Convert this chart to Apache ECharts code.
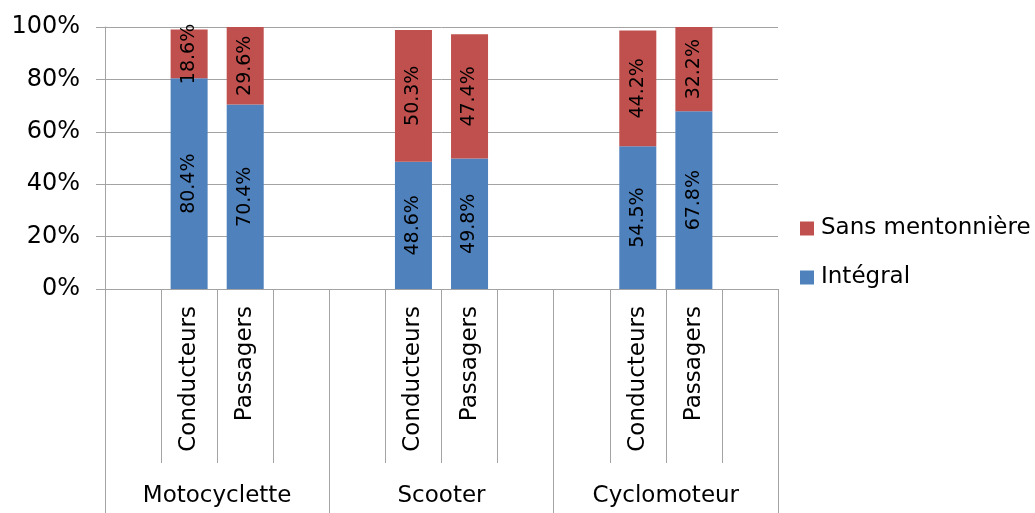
<!DOCTYPE html>
<html>
<head>
<meta charset="utf-8">
<script src="https://cdn.jsdelivr.net/npm/echarts@6/dist/echarts.min.js"></script>
<style>
  html, body { margin: 0; padding: 0; background: #fff; }
  #chart { width: 1035px; height: 513px; }
</style>
</head>
<body>
<div id="chart"></div>
<script>
// Inner categories (each vehicle group has an empty slot on both sides)
const subCategories = ['', 'Conducteurs', 'Passagers', '', '', 'Conducteurs', 'Passagers', '', '', 'Conducteurs', 'Passagers', ''];
const groupCategories = ['Motocyclette', 'Scooter', 'Cyclomoteur'];
// Share of each helmet type (%)
const integral = [null, 80.4, 70.4, null, null, 48.6, 49.8, null, null, 54.5, 67.8, null];
const sansMentonniere = [null, 18.6, 29.6, null, null, 50.3, 47.4, null, null, 44.2, 32.2, null];
const yTicks = { min: 0, max: 100, interval: 20 };

const FONT = 'DejaVu Sans';
const GRID_COLOR = '#a3a3a3';

const chart = echarts.init(document.getElementById('chart'), null, { renderer: 'canvas' });

const valueLabel = {
  show: true,
  position: 'inside',
  rotate: 90,
  fontFamily: FONT,
  fontSize: 19,
  color: '#000',
  formatter: p => p.value.toFixed(1) + '%'
};

chart.setOption({
  animation: false,
  backgroundColor: '#fff',
  grid: { left: 105, right: 257, top: 27, bottom: 224, containLabel: false },
  legend: {
    orient: 'vertical',
    left: 800,
    top: 217,
    padding: 0,
    itemWidth: 14,
    itemHeight: 14,
    itemGap: 26,
    icon: 'rect',
    data: ['Sans mentonnière', 'Intégral'],
    textStyle: { fontFamily: FONT, fontSize: 23, color: '#000', padding: [0, 0, 0, 2] }
  },
  xAxis: [
    {
      type: 'category',
      data: subCategories,
      position: 'bottom',
      axisLine: { show: true, lineStyle: { color: GRID_COLOR, width: 1 } },
      axisTick: { show: true, interval: 0, length: 174, lineStyle: { color: GRID_COLOR } },
      axisLabel: { interval: 0, rotate: 90, margin: 17, fontFamily: FONT, fontSize: 23, color: '#000' },
      splitLine: { show: false }
    },
    {
      type: 'category',
      data: groupCategories,
      position: 'bottom',
      axisLine: { show: false },
      axisTick: { show: true, interval: 0, length: 224, lineStyle: { color: GRID_COLOR } },
      axisLabel: { interval: 0, margin: 196, fontFamily: FONT, fontSize: 23, color: '#000' },
      splitLine: { show: false }
    }
  ],
  yAxis: {
    type: 'value',
    min: yTicks.min,
    max: yTicks.max,
    interval: yTicks.interval,
    axisLine: { show: true, lineStyle: { color: GRID_COLOR } },
    axisTick: { show: true, length: 9, lineStyle: { color: GRID_COLOR } },
    axisLabel: { margin: 25, fontFamily: FONT, fontSize: 24, color: '#000', formatter: '{value}%' },
    splitLine: { show: true, lineStyle: { color: GRID_COLOR, width: 1 } }
  },
  series: [
    {
      name: 'Intégral',
      type: 'bar',
      stack: 'total',
      xAxisIndex: 0,
      barWidth: '66%',
      data: integral,
      itemStyle: { color: '#4f81bd' },
      label: valueLabel
    },
    {
      name: 'Sans mentonnière',
      type: 'bar',
      stack: 'total',
      xAxisIndex: 0,
      barWidth: '66%',
      data: sansMentonniere,
      itemStyle: { color: '#c0504d' },
      label: valueLabel
    }
  ]
});
</script>
</body>
</html>
